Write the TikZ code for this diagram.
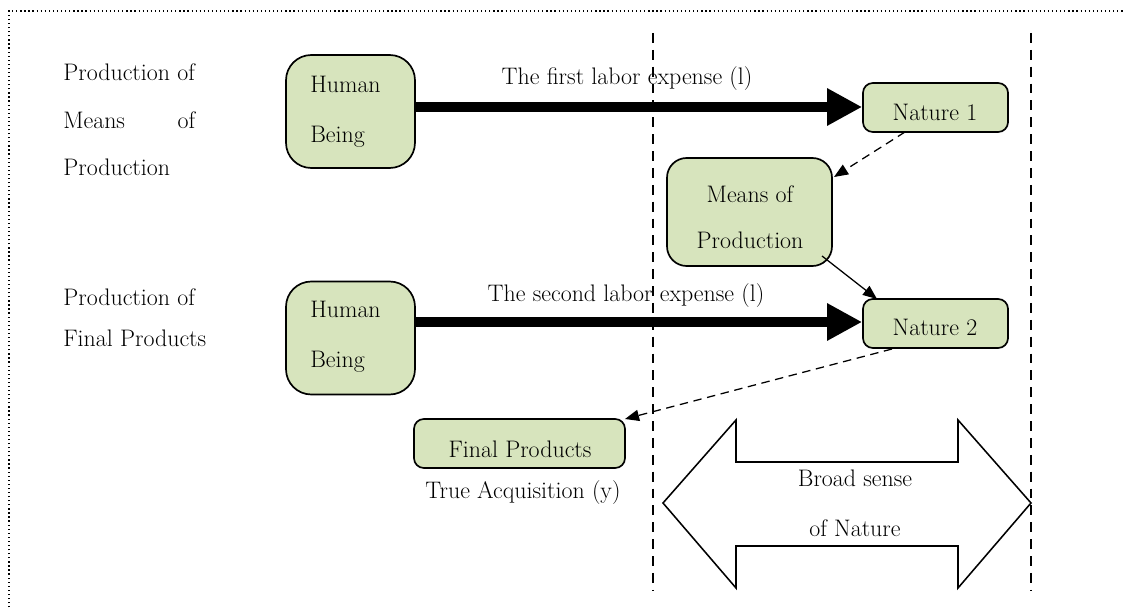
\documentclass[tikz,border=0pt]{standalone}
\usetikzlibrary{arrows.meta,positioning}
\definecolor{boxgreen}{RGB}{215,228,189}
\begin{document}
\begin{tikzpicture}[x=0.025cm,y=-0.025cm,
  font=\fontsize{17}{20}\selectfont,
  gbox/.style={draw=black,line width=1.2pt,fill=boxgreen,inner sep=0pt},
  humanbox/.style={gbox,rounded corners=18pt,minimum width=129*0.025cm,minimum height=113*0.025cm},
  natbox/.style={gbox,rounded corners=7pt,minimum width=145*0.025cm,minimum height=49*0.025cm},
  thick arrow/.style={line width=7.8pt,-{Triangle[length=25pt,width=25pt]}},
  dasharr/.style={line width=0.9pt,dash pattern=on 6pt off 4pt,-{Triangle[length=10pt,width=8pt]}},
  solarr/.style={line width=0.9pt,-{Triangle[length=10pt,width=8pt]}},
  vline/.style={line width=1.1pt,dash pattern=on 7pt off 5pt},
  lbl/.style={inner sep=0pt}
]
\useasboundingbox (0,0) rectangle (1124,609);
% frame
\draw[line width=0.9pt,dotted] (9,640) -- (9,11) -- (1160,11);
% vertical dashed lines
\coordinate (v1t) at (653,33); \coordinate (v1b) at (653,590);
\coordinate (v2t) at (1031,33); \coordinate (v2b) at (1031,590);
\draw[vline] (v1t) -- (v1b);
\draw[vline] (v2t) -- (v2b);
% left labels
\node[lbl,anchor=west,text width=132*0.025cm,align=justify,font=\fontsize{17}{33.8}\selectfont] (lab1) at (63,120)
  {Production of\\ Means\hfill of\\ Production};
\node[lbl,anchor=west,align=left,font=\fontsize{17}{29}\selectfont] (lab2) at (63,318)
  {Production of\\ Final Products};
% boxes
\node[humanbox] (h1) at (350.5,111.5) {};
\node[lbl,anchor=west,align=left,font=\fontsize{17}{35.6}\selectfont] (h1t) at (310,112) {Human\\Being};
\node[humanbox] (h2) at (350.5,338) {};
\node[lbl,anchor=west,align=left,font=\fontsize{17}{35.6}\selectfont] (h2t) at (310,337) {Human\\Being};
\node[natbox] (n1) at (935.5,107.5) {};
\node[lbl] (n1t) at (935,112) {Nature 1};
\node[natbox] (n2) at (935.5,323.5) {};
\node[lbl] (n2t) at (935,327) {Nature 2};
\node[gbox,rounded corners=14pt,minimum width=165*0.025cm,minimum height=108*0.025cm] (mp) at (749.5,212) {};
\node[lbl,align=center,font=\fontsize{17}{33}\selectfont] (mpt) at (750,217) {Means of\\Production};
\node[gbox,rounded corners=7pt,minimum width=211*0.025cm,minimum height=49*0.025cm] (fp) at (519.5,443.5) {};
\node[lbl] (fpt) at (520,449) {Final Products};
\node[lbl] (ta) at (523,493) {True Acquisition (y)};
% thick arrows
\draw[thick arrow] (h1.east |- 0,107) -- (n1.west |- 0,107);
\node[lbl] (l1) at (627,79) {The first labor expense (l)};
\draw[thick arrow] (h2.east |- 0,322) -- (n2.west |- 0,322);
\node[lbl] (l2) at (626,296) {The second labor expense (l)};
% small arrows
\coordinate (n1s) at (905,132);
\coordinate (mpe) at (834,177);
\draw[dasharr] (n1s) -- (mpe);
\coordinate (mps) at (822,256);
\coordinate (n2e) at (877,299);
\draw[solarr] (mps) -- (n2e);
\coordinate (n2s) at (892,349);
\coordinate (fpe) at (625,419);
\draw[dasharr] (n2s) -- (fpe);
% double arrow
\draw[line width=1.1pt,fill=white] (663,503) -- (736,420) -- (736,462) -- (958,462) -- (958,420)
  -- (1031,503) -- (958,588) -- (958,546) -- (736,546) -- (736,588) -- cycle;
\node[lbl,align=center,font=\fontsize{17}{35.6}\selectfont] (bs) at (855,503) {Broad sense\\of Nature};
\end{tikzpicture}
\end{document}
